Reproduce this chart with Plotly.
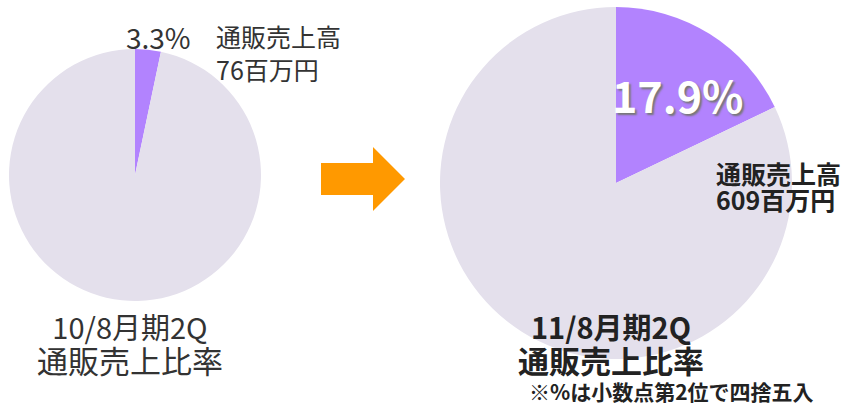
import plotly.graph_objects as go

# Mail-order share of sales for the two half-year periods
periods = ["10/8月期2Q", "11/8月期2Q"]
mail_order_share = [3.3, 17.9]          # percent of total sales
mail_order_sales = [76, 609]            # 百万円
slice_labels = ["通販売上高", "その他"]

W, H = 853, 408
FONT = "Noto Sans CJK JP"
SLICE_COLOR = "#b283fe"
REST_COLOR = "#e4e0ec"
TEXT_COLOR = "#333333"
DARK_TEXT = "#222222"


def px(x):
    return x / W


def py(y):
    return 1 - y / H


def pie_domain(cx, cy, r):
    return dict(x=[px(cx - r), px(cx + r)], y=[py(cy + r), py(cy - r)])


def sized(text, size, bold=False):
    body = f"<b>{text}</b>" if bold else text
    return f"<span style='font-size:{size}px'>{body}</span>"


fig = go.Figure()

pie_geometry = [(135, 175, 126), (616, 183, 176)]
for share, (cx, cy, r) in zip(mail_order_share, pie_geometry):
    fig.add_trace(go.Pie(
        values=[share, 100 - share],
        labels=slice_labels,
        marker=dict(colors=[SLICE_COLOR, REST_COLOR], line=dict(width=0)),
        domain=pie_domain(cx, cy, r),
        direction="clockwise",
        rotation=0,
        sort=False,
        textinfo="none",
        hoverinfo="label+percent",
    ))

annotations = []

# Left pie: percentage and amount labels above the pie
annotations.append(dict(
    x=px(158), y=py(37), xref="paper", yref="paper",
    text=f"{mail_order_share[0]:.1f}%", showarrow=False,
    xanchor="center", yanchor="middle",
    font=dict(family=FONT, size=28, color=TEXT_COLOR),
))
annotations.append(dict(
    x=px(214), y=py(53), xref="paper", yref="paper",
    text=f"{slice_labels[0]}<br>{mail_order_sales[0]}百万円",
    showarrow=False, align="left",
    xanchor="left", yanchor="middle",
    font=dict(family=FONT, size=25, color=TEXT_COLOR),
))

# Right pie: percentage inside the slice, amount label beside it
annotations.append(dict(
    x=px(678), y=py(94), xref="paper", yref="paper",
    text=f"<b>{mail_order_share[1]:.1f}%</b>", showarrow=False,
    xanchor="center", yanchor="middle",
    font=dict(family=FONT, size=43, color="#ffffff",
              shadow="2px 2px 2px #777777"),
))
annotations.append(dict(
    x=px(714), y=py(186), xref="paper", yref="paper",
    text=sized(slice_labels[0], 25, True) + "<br>"
    + sized(f"{mail_order_sales[1]}百万円", 25, True),
    showarrow=False, align="left",
    xanchor="left", yanchor="middle",
    font=dict(family=FONT, size=20, color=DARK_TEXT),
))

# Period titles under each pie
title_pos = [(130, False), (611, True)]
for period, (cx, bold) in zip(periods, title_pos):
    annotations.append(dict(
        x=px(cx), y=py(343), xref="paper", yref="paper",
        text=sized(period, 29, bold) + "<br>" + sized("通販売上比率", 31, bold),
        showarrow=False, align="center",
        xanchor="center", yanchor="middle",
        font=dict(family=FONT, size=26, color=DARK_TEXT if bold else TEXT_COLOR),
    ))

# Rounding note
annotations.append(dict(
    x=px(671), y=0, xref="paper", yref="paper",
    text="<b>※%は小数点第2位で四捨五入</b>", showarrow=False,
    xanchor="center", yanchor="bottom",
    font=dict(family=FONT, size=21, color=DARK_TEXT),
))

# Orange arrow between the two pies
arrow_pts = [(321, 163), (373, 163), (373, 147), (405, 179),
             (373, 211), (373, 195), (321, 195)]
path = "M " + " L ".join(f"{px(x):.5f},{py(y):.5f}" for x, y in arrow_pts) + " Z"
fig.add_shape(type="path", path=path, xref="paper", yref="paper",
              fillcolor="#ff9900", line=dict(width=0))

fig.update_layout(
    width=W, height=H,
    margin=dict(l=0, r=0, t=0, b=0),
    paper_bgcolor="white", plot_bgcolor="white",
    showlegend=False,
    annotations=annotations,
)

fig.write_html("out.html")
